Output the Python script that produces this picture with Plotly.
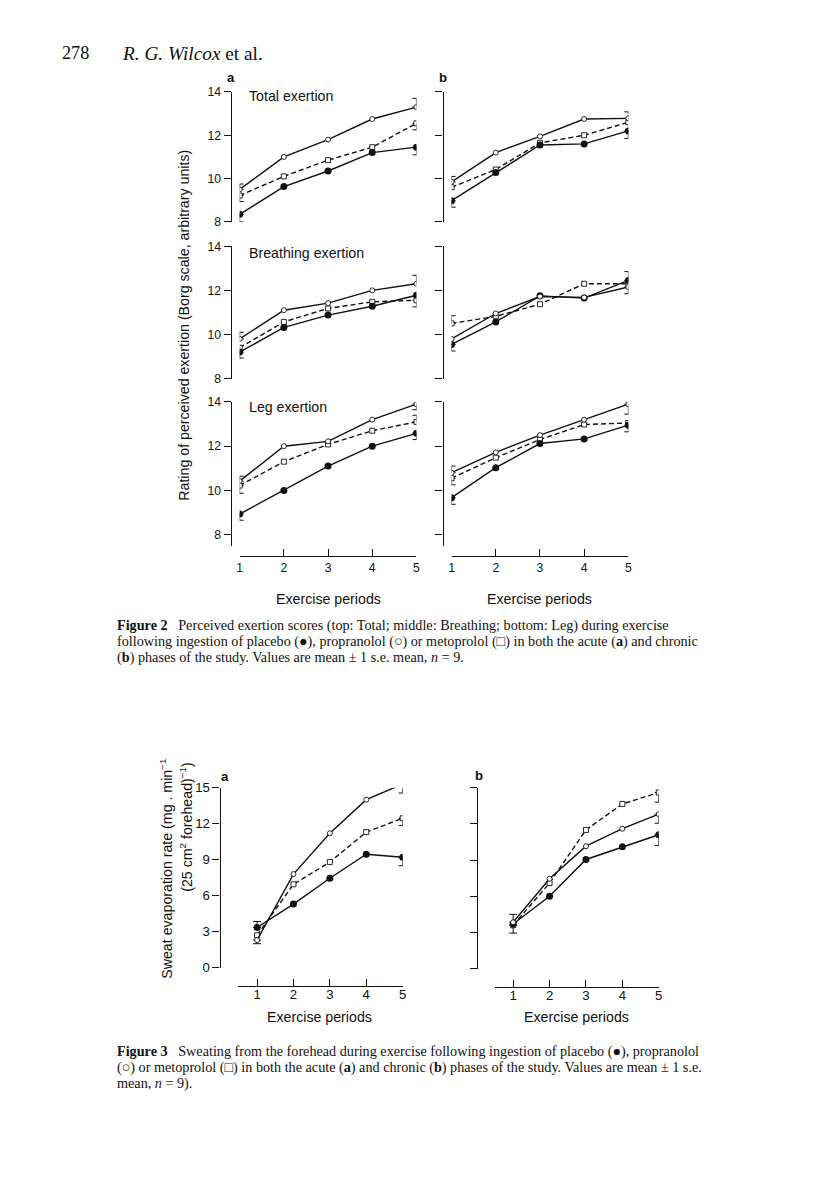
import plotly.graph_objects as go

# figure canvas
W, H = 800, 1172
# measured placement of the canvas in the final picture: picture = SCALE * canvas + offset
SCALE = 0.987
OFF_X, OFF_Y = 13.3, 14.8

periods = [1, 2, 3, 4, 5]

# ---------- Figure 2 : perceived exertion (Borg) ----------
# acute (a)
placebo_total_a = [8.35, 9.63, 10.35, 11.2, 11.45]
propranolol_total_a = [9.5, 11.0, 11.8, 12.75, 13.3]
metoprolol_total_a = [9.22, 10.1, 10.85, 11.45, 12.55]
placebo_breath_a = [9.2, 10.32, 10.88, 11.28, 11.78]
propranolol_breath_a = [9.8, 11.1, 11.42, 12.0, 12.3]
metoprolol_breath_a = [9.4, 10.57, 11.18, 11.48, 11.55]
placebo_leg_a = [8.93, 10.0, 11.1, 12.0, 12.58]
propranolol_leg_a = [10.42, 12.0, 12.22, 13.2, 13.9]
metoprolol_leg_a = [10.22, 11.3, 12.08, 12.7, 13.1]
# chronic (b)
placebo_total_b = [8.98, 10.28, 11.55, 11.6, 12.2]
propranolol_total_b = [9.85, 11.2, 11.95, 12.75, 12.78]
metoprolol_total_b = [9.6, 10.42, 11.65, 12.0, 12.6]
placebo_breath_b = [9.55, 10.57, 11.75, 11.65, 12.45]
propranolol_breath_b = [9.8, 10.95, 11.72, 11.68, 12.15]
metoprolol_breath_b = [10.5, 10.82, 11.37, 12.3, 12.3]
placebo_leg_b = [9.67, 11.03, 12.12, 12.33, 12.95]
propranolol_leg_b = [10.8, 11.72, 12.5, 13.2, 13.9]
metoprolol_leg_b = [10.55, 11.48, 12.3, 12.98, 13.05]

# one-sided s.e. bars (plus, minus) at periods 1 and 5
se_total_a = {"placebo": ([0, 0], [0.35, 0.35]), "propranolol": ([0.25, 0.4], [0, 0]), "metoprolol": ([0, 0], [0.28, 0.3])}
se_breath_a = {"placebo": ([0, 0], [0.27, 0]), "propranolol": ([0.3, 0.38], [0, 0]), "metoprolol": ([0, 0], [0, 0.3])}
se_leg_a = {"placebo": ([0, 0], [0.28, 0.28]), "propranolol": ([0.22, 0], [0, 0.25]), "metoprolol": ([0, 0.3], [0.35, 0])}
se_total_b = {"placebo": ([0, 0], [0.3, 0.35]), "propranolol": ([0.25, 0.3], [0, 0]), "metoprolol": ([0, 0], [0, 0])}
se_breath_b = {"placebo": ([0, 0.4], [0.3, 0]), "propranolol": ([0, 0], [0, 0.3]), "metoprolol": ([0.35, 0], [0, 0])}
se_leg_b = {"placebo": ([0, 0], [0.3, 0.3]), "propranolol": ([0.3, 0], [0, 0.45]), "metoprolol": ([0, 0], [0.3, 0])}

borg_ticks = [8, 10, 12, 14]
panel_titles = ["Total exertion", "Breathing exertion", "Leg exertion"]

# ---------- Figure 3 : sweat evaporation ----------
placebo_sweat_a = [3.35, 5.3, 7.45, 9.45, 9.2]
propranolol_sweat_a = [2.3, 7.8, 11.2, 14.0, 15.3]
metoprolol_sweat_a = [2.7, 6.95, 8.8, 11.3, 12.45]
placebo_sweat_b = [3.7, 6.0, 9.05, 10.1, 11.1]
propranolol_sweat_b = [3.85, 7.45, 10.15, 11.6, 12.8]
metoprolol_sweat_b = [3.6, 7.1, 11.5, 13.65, 14.6]
se_sweat_a = {"placebo": ([0.5, 0], [0, 0.7]), "propranolol": ([0, 0], [0.3, 0.75]), "metoprolol": ([0, 0], [0, 0.6])}
se_sweat_b = {"placebo": ([0, 0], [0, 0.9]), "propranolol": ([0.65, 0], [0, 0.75]), "metoprolol": ([0, 0], [0.65, 0.8])}
sweat_ticks = [0, 3, 6, 9, 12, 15]


def px(x):
    return ((x - OFF_X) / SCALE) / W


def py(y):
    return 1 - ((y - OFF_Y) / SCALE) / H


def fs(s):
    return round(s / SCALE, 1)


SANS = "Liberation Sans, Arial, sans-serif"
SERIF = "Liberation Serif, Times New Roman, serif"
INK = "#111111"

fig = go.Figure()

styles = {
    "placebo": dict(dash="solid", symbol="circle", msize=7, fill=INK, mline=0),
    "propranolol": dict(dash="solid", symbol="circle", msize=5, fill="white", mline=0.9),
    "metoprolol": dict(dash="5px,3px", symbol="square", msize=5, fill="white", mline=0.9),
}


def add_series(xa, ya, values, se):
    for name in ["metoprolol", "placebo", "propranolol"]:
        vals = values[name]
        plus, minus = se[name]
        ex = [periods[0], periods[-1]]
        ey = [vals[0], vals[-1]]
        keep = [i for i in range(2) if plus[i] > 0 or minus[i] > 0]
        if keep:
            fig.add_trace(go.Scatter(
                x=[ex[i] for i in keep], y=[ey[i] for i in keep], mode="markers",
                xaxis=xa, yaxis=ya, hoverinfo="skip",
                marker=dict(size=1, color="rgba(0,0,0,0)"),
                error_y=dict(type="data", symmetric=False,
                             array=[plus[i] for i in keep], arrayminus=[minus[i] for i in keep],
                             color=INK, thickness=1, width=4),
            ))
    for name in ["metoprolol", "placebo", "propranolol"]:
        st = styles[name]
        fig.add_trace(go.Scatter(
            x=periods, y=values[name], mode="lines+markers", name=name,
            xaxis=xa, yaxis=ya,
            line=dict(color=INK, width=1.4, dash=st["dash"]),
            marker=dict(symbol=st["symbol"], size=st["msize"], color=st["fill"],
                        line=dict(color=INK, width=st["mline"])),
        ))


layout = dict(
    width=W, height=H, margin=dict(l=0, r=0, t=0, b=0),
    paper_bgcolor="white", plot_bgcolor="white", showlegend=False,
)

axis_common = dict(showgrid=False, zeroline=False, showline=True, linecolor=INK, linewidth=1.2,
                   tickcolor=INK, tickwidth=1.2, ticklen=7, fixedrange=True)

fig2_cols = {"a": (241, 417, 232), "b": (452, 628, 443)}
layout["xaxis"] = dict(axis_common, domain=[px(241), px(417)], range=[1, 5], anchor="free",
                       position=py(556), ticks="inside", tickvals=periods,
                       tickfont=dict(family=SANS, size=fs(12), color=INK))
layout["xaxis2"] = dict(axis_common, domain=[px(452), px(628)], range=[1, 5], anchor="free",
                        position=py(556), ticks="inside", tickvals=periods,
                        tickfont=dict(family=SANS, size=fs(12), color=INK))

# panel vertical geometry: (pixel of 14, pixel of 8, bottom pixel of axis line)
rows = [(91.7, 221.7, 221.7), (246.0, 378.3, 378.3), (401.7, 534.3, 546.0)]
data_a = [
    dict(placebo=placebo_total_a, propranolol=propranolol_total_a, metoprolol=metoprolol_total_a),
    dict(placebo=placebo_breath_a, propranolol=propranolol_breath_a, metoprolol=metoprolol_breath_a),
    dict(placebo=placebo_leg_a, propranolol=propranolol_leg_a, metoprolol=metoprolol_leg_a),
]
data_b = [
    dict(placebo=placebo_total_b, propranolol=propranolol_total_b, metoprolol=metoprolol_total_b),
    dict(placebo=placebo_breath_b, propranolol=propranolol_breath_b, metoprolol=metoprolol_breath_b),
    dict(placebo=placebo_leg_b, propranolol=propranolol_leg_b, metoprolol=metoprolol_leg_b),
]
se_a = [se_total_a, se_breath_a, se_leg_a]
se_b = [se_total_b, se_breath_b, se_leg_b]

yi = 1
for r, (p14, p8, pbot) in enumerate(rows):
    per = (p8 - p14) / 6.0
    ymin = 8 - (pbot - p8) / per
    for col, xa, dat, se in [("a", "x", data_a[r], se_a[r]), ("b", "x2", data_b[r], se_b[r])]:
        key = "yaxis" if yi == 1 else f"yaxis{yi}"
        ya = "y" if yi == 1 else f"y{yi}"
        layout[key] = dict(axis_common, domain=[py(pbot), py(p14)], range=[ymin, 14],
                           anchor="free", position=px(fig2_cols[col][2]), ticks="outside",
                           tickvals=borg_ticks, showticklabels=(col == "a"),
                           tickfont=dict(family=SANS, size=fs(12), color=INK))
        add_series(xa, ya, dat, se)
        yi += 1

# Figure 3 axes
layout["xaxis3"] = dict(axis_common, domain=[px(239.3), px(403.3)], range=[1 - 19.0 / 36.25, 5],
                        anchor="free", position=py(986), ticks="inside", tickvals=periods,
                        ticklabelstandoff=-4,
                        tickfont=dict(family=SANS, size=fs(13), color=INK))
layout["xaxis4"] = dict(axis_common, domain=[px(495.0), px(658.3)], range=[1 - 18.3 / 36.25, 5],
                        anchor="free", position=py(987), ticks="inside", tickvals=periods,
                        ticklabelstandoff=-4,
                        tickfont=dict(family=SANS, size=fs(13), color=INK))
layout["yaxis7"] = dict(axis_common, domain=[py(967.3), py(787.3)], range=[0, 15], anchor="free",
                        position=px(221), ticks="outside", tickvals=sweat_ticks,
                        tickfont=dict(family=SANS, size=fs(13), color=INK))
layout["yaxis8"] = dict(axis_common, domain=[py(968.3), py(787.3)], range=[0, 15], anchor="free",
                        position=px(477.3), ticks="outside", tickvals=sweat_ticks, showticklabels=False)

add_series("x3", "y7", dict(placebo=placebo_sweat_a, propranolol=propranolol_sweat_a,
                            metoprolol=metoprolol_sweat_a), se_sweat_a)
add_series("x4", "y8", dict(placebo=placebo_sweat_b, propranolol=propranolol_sweat_b,
                            metoprolol=metoprolol_sweat_b), se_sweat_b)

fig.update_layout(**layout)

ann = []


def text(x, y, s, size=13, family=SANS, xanchor="left", angle=0, bold=False, color=INK):
    if bold:
        s = f"<b>{s}</b>"
    ann.append(dict(x=px(x), y=py(y), xref="paper", yref="paper", text=s, showarrow=False,
                    xanchor=xanchor, yanchor="middle", textangle=angle,
                    font=dict(family=family, size=fs(size), color=color)))


# header
text(62, 53, "278", size=18, family=SERIF)
text(122, 53, "<i>R. G. Wilcox</i> et al.", size=19, family=SERIF)

# Figure 2 labels
text(232, 77, "a", size=13, bold=True, xanchor="center")
text(443, 77, "b", size=13, bold=True, xanchor="center")
for title, y in zip(panel_titles, [96, 253, 407]):
    text(248, y, title, size=14)
text(186, 325, "Rating of perceived exertion (Borg scale, arbitrary units)", size=14,
     xanchor="center", angle=-90)
text(329, 599, "Exercise periods", size=14, xanchor="center")
text(540, 599, "Exercise periods", size=14, xanchor="center")

# Figure 2 caption
text(117, 625, "<b>Figure 2</b>   Perceived exertion scores (top: Total; middle: Breathing; bottom: Leg) during exercise",
     size=14, family=SERIF)
text(117, 641, "following ingestion of placebo (\u25CF), propranolol (\u25CB) or metoprolol (\u25A1) in both the acute (<b>a</b>) and chronic",
     size=14, family=SERIF)
text(117, 657, "(<b>b</b>) phases of the study. Values are mean \u00B1 1 s.e. mean, <i>n</i> = 9.",
     size=14, family=SERIF)

# Figure 3 labels
text(226, 776, "a", size=13, bold=True, xanchor="center")
text(479, 775, "b", size=13, bold=True, xanchor="center")
text(168, 868, "Sweat evaporation rate (mg . min<sup>\u22121</sup>", size=14, xanchor="center", angle=-90)
text(188, 826, "(25 cm<sup>2</sup> forehead)<sup>\u22121</sup>)", size=14, xanchor="center", angle=-90)
text(320, 1017, "Exercise periods", size=14, xanchor="center")
text(576, 1017, "Exercise periods", size=14, xanchor="center")

# Figure 3 caption
text(117, 1051, "<b>Figure 3</b>   Sweating from the forehead during exercise following ingestion of placebo (\u25CF), propranolol",
     size=14, family=SERIF)
text(117, 1067, "(\u25CB) or metoprolol (\u25A1) in both the acute (<b>a</b>) and chronic (<b>b</b>) phases of the study. Values are mean \u00B1 1 s.e.",
     size=14, family=SERIF)
text(117, 1083, "mean, <i>n</i> = 9).", size=14, family=SERIF)

fig.update_layout(annotations=ann)
fig.write_html("out.html")
